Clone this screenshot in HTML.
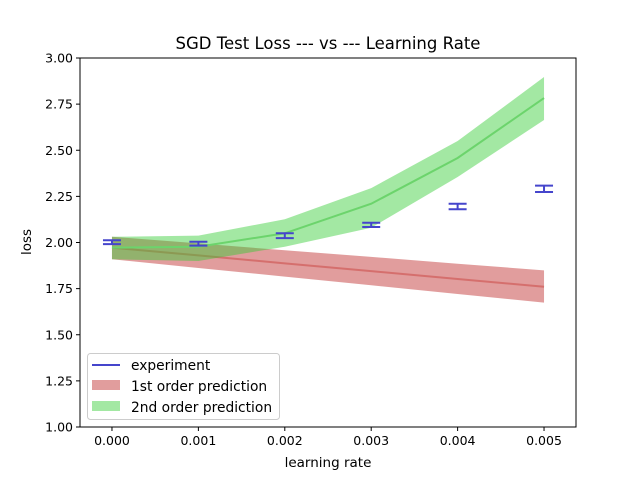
<!DOCTYPE html>
<html><head><meta charset="utf-8"><style>
body{margin:0;background:#fff}
svg{display:block;font-family:"DejaVu Sans","Liberation Sans",sans-serif}
</style></head><body>
<svg id="chart" width="640" height="480" viewBox="0 0 640 480">
<rect width="640" height="480" fill="#fff"/>
<g id="plot"></g>
</svg>
<script>
const lrs=[0,0.001,0.002,0.003,0.004,0.005];
const firstLine=[1.972,1.930,1.887,1.845,1.802,1.760];
const firstUpper=[2.031,1.995,1.958,1.922,1.885,1.849];
const firstLower=[1.909,1.862,1.815,1.768,1.721,1.674];
const secondLine=[1.972,1.977,2.050,2.210,2.458,2.783];
const secondUpper=[2.031,2.037,2.126,2.295,2.550,2.897];
const secondLower=[1.909,1.900,1.977,2.080,2.355,2.664];
const expLow=[1.991,1.983,2.024,2.084,2.180,2.274];
const expHigh=[2.012,2.004,2.050,2.107,2.210,2.308];
const xTicks=[0,0.001,0.002,0.003,0.004,0.005];
const xTickLabels=["0.000","0.001","0.002","0.003","0.004","0.005"];
const yTicks=[1.0,1.25,1.5,1.75,2.0,2.25,2.5,2.75,3.0];
const yTickLabels=["1.00","1.25","1.50","1.75","2.00","2.25","2.50","2.75","3.00"];

const L=80,R=576,T=58,B=427;
const X0=-0.00037,X1=0.00537,Y0=1.0,Y1=3.0;
const sx=v=>L+(v-X0)/(X1-X0)*(R-L);
const sy=v=>B-(v-Y0)/(Y1-Y0)*(B-T);
const NS="http://www.w3.org/2000/svg";
const g=document.getElementById('plot');
function mk(tag,attrs,parent){const e=document.createElementNS(NS,tag);for(const k in attrs)e.setAttribute(k,attrs[k]);(parent||g).appendChild(e);return e;}
function band(up,lo){let p=lrs.map((x,i)=>sx(x)+','+sy(up[i]));for(let i=lrs.length-1;i>=0;i--)p.push(sx(lrs[i])+','+sy(lo[i]));return p.join(' ');}
function line(v){return lrs.map((x,i)=>sx(x)+','+sy(v[i])).join(' ');}

let e;
e=mk('polygon',{points:band(firstUpper,firstLower),fill:'indianred','fill-opacity':0.6});


e=mk('polyline',{points:line(firstLine),fill:'none',stroke:'#d46a68','stroke-width':2,'stroke-opacity':0.9});


e=mk('polygon',{points:band(secondUpper,secondLower),fill:'limegreen','fill-opacity':0.45});


e=mk('polyline',{points:line(secondLine),fill:'none',stroke:'#6cd46c','stroke-width':2});



lrs.forEach((x,i)=>{
  const eg=mk('g',{stroke:'#4545cc','stroke-width':2});
  
  
  const cx=sx(x),a=sy(expHigh[i]),b=sy(expLow[i]);
  mk('line',{x1:cx,x2:cx,y1:a,y2:b},eg);
  mk('line',{x1:cx-9,x2:cx+9,y1:a,y2:a},eg);
  mk('line',{x1:cx-9,x2:cx+9,y1:b,y2:b},eg);
});

e=mk('rect',{x:L,y:T,width:R-L,height:B-T,fill:'none',stroke:'#000','stroke-width':1});



xTicks.forEach((v,i)=>{
  const x=sx(v);
  mk('line',{x1:x,x2:x,y1:B,y2:B+4,stroke:'#000'});
  e=mk('text',{x:x,y:B+18,'text-anchor':'middle','font-size':12.5});
  e.textContent=xTickLabels[i];
  
  
});
yTicks.forEach((v,i)=>{
  const y=sy(v);
  mk('line',{x1:L-4,x2:L,y1:y,y2:y,stroke:'#000'});
  e=mk('text',{x:L-7,y:y+4.5,'text-anchor':'end','font-size':12.5});
  e.textContent=yTickLabels[i];
  
  
});
e=mk('text',{x:328,y:467,'text-anchor':'middle','font-size':13.5});
e.textContent='learning rate';


e=mk('text',{x:0,y:0,'text-anchor':'middle','font-size':13.5,transform:'translate(31,242) rotate(-90)'});
e.textContent='loss';


e=mk('text',{x:328,y:49,'text-anchor':'middle','font-size':16.5});
e.textContent='SGD Test Loss --- vs --- Learning Rate';



const lg=mk('g',{});


mk('rect',{x:87.5,y:353.5,width:192,height:66,rx:3,fill:'#fff','fill-opacity':0.8,stroke:'#ccc'},lg);
mk('line',{x1:92,x2:120,y1:365,y2:365,stroke:'#4545cc','stroke-width':2},lg);
mk('rect',{x:92,y:380,width:28,height:10,fill:'indianred','fill-opacity':0.6},lg);
mk('rect',{x:92,y:401,width:28,height:10,fill:'limegreen','fill-opacity':0.45},lg);
[['experiment',370],['1st order prediction',391],['2nd order prediction',412]].forEach(t=>{
  e=mk('text',{x:131,y:t[1],'font-size':13.8},lg);
  e.textContent=t[0];
  
  
});
</script>
</body></html>
